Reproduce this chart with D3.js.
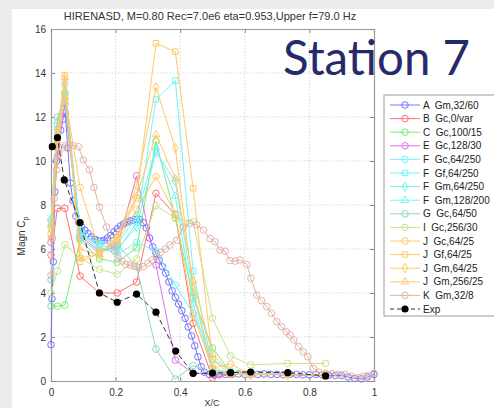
<!DOCTYPE html>
<html><head><meta charset="utf-8">
<script src="https://cdn.jsdelivr.net/npm/d3@7"></script>
<style>
html,body{margin:0;padding:0;background:#ebebeb;}
svg{display:block;}
</style>
</head><body>
<svg id="chart" width="494" height="408"></svg>
<script>
// Chord stations of the pressure taps (Station 7)
const sensorX = [0, 0.02, 0.043, 0.09, 0.15, 0.205, 0.265, 0.325, 0.385, 0.44, 0.5, 0.556, 0.618, 0.733, 0.85];

// Experiment
const expX  = [0.004, 0.02, 0.041, 0.09, 0.15, 0.205, 0.265, 0.325, 0.386, 0.44, 0.5, 0.556, 0.618, 0.733, 0.85];
const expCp = [10.65, 11.06, 9.14, 7.2, 4.0, 3.58, 3.95, 3.13, 1.36, 0.35, 0.36, 0.38, 0.41, 0.38, 0.23];

// A Gm,32/60 (dense surface output)
const aX = [0,0.003,0.007,0.012,0.017,0.023,0.03,0.037,0.044,0.052,0.06,0.068,0.077,0.086,0.095,0.105,0.115,0.125,0.135,0.145,0.155,0.165,0.175,0.185,0.195,0.205,0.215,0.225,0.235,0.245,0.255,0.265,0.275,0.285,0.295,0.305,0.315,0.325,0.335,0.345,0.355,0.365,0.375,0.385,0.395,0.405,0.415,0.425,0.435,0.445,0.455,0.465,0.475,0.49,0.505,0.52,0.54,0.56,0.58,0.6,0.62,0.64,0.66,0.68,0.7,0.72,0.74,0.76,0.78,0.8,0.82,0.84,0.86,0.88,0.9,0.92,0.94,0.96,0.98,1.0];
const aCp = [1.65,3.74,5.42,8.6,10.0,10.6,11.4,11.9,12.2,10.6,9.0,8.2,7.5,7.2,7.0,6.85,6.7,6.55,6.45,6.38,6.35,6.4,6.5,6.62,6.78,6.92,7.05,7.15,7.22,7.28,7.32,7.35,7.33,7.2,6.95,6.5,6.1,5.8,5.5,5.2,4.9,4.5,4.1,3.8,3.5,3.2,2.85,2.45,2.05,1.6,1.1,0.65,0.4,0.3,0.26,0.28,0.3,0.3,0.32,0.3,0.3,0.3,0.32,0.3,0.3,0.28,0.3,0.3,0.28,0.28,0.3,0.28,0.26,0.25,0.25,0.18,0.12,0.1,0.18,0.3];

// K Gm,32/8 (dense surface output)
const kX = [0,0.005,0.01,0.017,0.025,0.035,0.045,0.057,0.069,0.085,0.1,0.119,0.133,0.15,0.172,0.185,0.197,0.208,0.22,0.232,0.245,0.258,0.272,0.286,0.3,0.313,0.327,0.34,0.354,0.368,0.389,0.41,0.43,0.451,0.472,0.492,0.508,0.523,0.539,0.554,0.57,0.585,0.606,0.619,0.637,0.652,0.668,0.683,0.699,0.714,0.728,0.74,0.752,0.766,0.781,0.795,0.812,0.83,0.85,0.87,0.89,0.91,0.93,0.95,0.965,0.98,1.0];
const kCp = [4.8,6.5,8.3,9.6,10.3,10.6,10.7,10.75,10.7,10.65,10.05,9.6,8.8,7.9,7.0,6.26,5.9,5.58,5.45,5.3,5.27,5.2,5.15,5.2,5.35,5.5,5.65,5.85,6.0,6.18,6.4,7.0,7.17,7.1,6.86,6.48,6.33,5.95,5.9,5.47,5.45,5.5,5.3,4.67,3.9,3.65,3.38,3.08,2.7,2.47,2.24,2.09,1.86,1.56,1.33,1.1,0.58,0.4,0.35,0.33,0.3,0.3,0.22,0.15,0.2,0.25,0.35];

// Simulations sampled at the tap stations
const bCp   = [5.73, 7.85, 7.85, 4.77, 4.0, 4.0, 4.5, 8.53, 7.55, 2.62, 0.14, 0.3, 0.28, 0.3, 0.25];
const cCp   = [3.4, 3.4, 3.45, 6.4, 5.55, 5.4, 6.05, 10.9, 7.4, 3.8, 1.5, 0.4, 0.35, 0.3, 0.28];
const eCp   = [6.3, 10.2, 12.6, 6.6, 5.9, 6.1, 9.33, 5.27, 0.95, 0.35, 0.3, 0.3, 0.3, 0.28, 0.25];
const fGcCp = [7.3, 11.6, 13.1, 6.8, 6.1, 5.75, 6.3, 5.9, 4.36, 3.08, 1.0, 0.45, 0.35, 0.3, 0.28];
const fGfCp = [7.0, 11.2, 13.5, 6.7, 6.0, 5.9, 7.2, 12.8, 13.65, 5.0, 0.6, 0.35, 0.3, 0.3, 0.28];
const fGm64Cp  = [7.2, 11.4, 12.8, 7.0, 6.2, 6.0, 7.0, 10.4, 9.06, 4.0, 0.5, 0.35, 0.3, 0.3, 0.28];
const fGm128Cp = [7.4, 11.8, 13.2, 6.6, 6.3, 6.2, 7.5, 10.6, 8.4, 3.5, 0.4, 0.35, 0.3, 0.3, 0.28];
const gCp   = [4.6, 12.0, 12.8, 6.5, 5.8, 6.2, 5.2, 1.45, 0.09, 0.7, 0.4, 0.35, 0.3, 0.3, 0.28];
const iCp   = [4.0, 5.0, 6.2, 5.6, 5.08, 4.85, 5.55, 7.97, 7.4, 7.24, 2.85, 1.14, 0.73, 0.8, 0.8];
const jGcCp = [6.7, 10.8, 13.0, 8.8, 5.9, 6.3, 7.8, 9.29, 7.6, 3.0, 0.6, 0.77, 0.3, 0.3, 0.28];
const jGfCp = [6.5, 11.0, 13.9, 5.42, 5.8, 6.4, 8.3, 15.35, 14.97, 8.76, 0.95, 0.32, 0.3, 0.3, 0.28];
const jGm64Cp  = [6.9, 11.2, 13.6, 6.0, 5.7, 6.5, 8.9, 13.35, 10.58, 4.2, 0.5, 0.35, 0.3, 0.3, 0.28];
const jGm256Cp = [7.1, 11.5, 13.8, 5.6, 5.75, 6.6, 8.4, 11.2, 9.2, 4.56, 1.2, 0.4, 0.3, 0.3, 0.28];

const xTicks = [0, 0.2, 0.4, 0.6, 0.8, 1];
const yTicks = [0, 2, 4, 6, 8, 10, 12, 14, 16];
const titleText = "HIRENASD, M=0.80 Rec=7.0e6 eta=0.953,Upper f=79.0 Hz";

const series = [
  {label: "A  Gm,32/60",   xs: aX,      ys: aCp,      color: "#7474ff", mark: "o"},
  {label: "B  Gc,0/var",   xs: sensorX, ys: bCp,      color: "#ff7070", mark: "o"},
  {label: "C  Gc,100/15",  xs: sensorX, ys: cCp,      color: "#74ee74", mark: "o"},
  {label: "E  Gc,128/30",  xs: sensorX, ys: eCp,      color: "#e070e8", mark: "o"},
  {label: "F  Gc,64/250",  xs: sensorX, ys: fGcCp,    color: "#70f4f4", mark: "o"},
  {label: "F  Gf,64/250",  xs: sensorX, ys: fGfCp,    color: "#70f4f4", mark: "s"},
  {label: "F  Gm,64/250",  xs: sensorX, ys: fGm64Cp,  color: "#70f4f4", mark: "d"},
  {label: "F  Gm,128/200", xs: sensorX, ys: fGm128Cp, color: "#70f4f4", mark: "^"},
  {label: "G  Gc,64/50",   xs: sensorX, ys: gCp,      color: "#8ed8c4", mark: "o"},
  {label: "I  Gc,256/30",  xs: sensorX, ys: iCp,      color: "#c8e48a", mark: "o"},
  {label: "J  Gc,64/25",   xs: sensorX, ys: jGcCp,    color: "#ffc868", mark: "o"},
  {label: "J  Gf,64/25",   xs: sensorX, ys: jGfCp,    color: "#ffc868", mark: "s"},
  {label: "J  Gm,64/25",   xs: sensorX, ys: jGm64Cp,  color: "#ffc868", mark: "d"},
  {label: "J  Gm,256/25",  xs: sensorX, ys: jGm256Cp, color: "#ffc868", mark: "^"},
  {label: "K  Gm,32/8",    xs: kX,      ys: kCp,      color: "#e2b4a6", mark: "o"}
];

const svg = d3.select("#chart");
const W = 494, H = 408;

// slide backdrop and white figure panel
svg.append("rect").attr("x", 0).attr("y", 0).attr("width", W).attr("height", H).attr("fill", "#ebebeb");
svg.append("rect").attr("x", 12).attr("y", 9).attr("width", W - 12).attr("height", H - 9).attr("fill", "#ffffff");

const plot = {left: 51, right: 374, top: 29, bottom: 381};
const x = d3.scaleLinear().domain([0, 1]).range([plot.left, plot.right]);
const y = d3.scaleLinear().domain([0, 16]).range([plot.bottom, plot.top]);

const font = "'Liberation Sans', Arial, sans-serif";

// grid
const grid = svg.append("g").attr("stroke", "#c4c4c4").attr("stroke-width", 0.8).attr("stroke-dasharray", "1.2,2");
grid.selectAll(".gx").data(xTicks.slice(1, -1)).enter().append("line")
  .attr("x1", d => x(d)).attr("x2", d => x(d)).attr("y1", plot.top).attr("y2", plot.bottom);
grid.selectAll(".gy").data(yTicks.slice(1, -1)).enter().append("line")
  .attr("x1", plot.left).attr("x2", plot.right).attr("y1", d => y(d)).attr("y2", d => y(d));

// axes
const axB = svg.append("g").attr("transform", `translate(0,${plot.bottom})`)
  .call(d3.axisBottom(x).tickValues(xTicks).tickSize(-4).tickPadding(8).tickFormat(d3.format("~g")));
const axL = svg.append("g").attr("transform", `translate(${plot.left},0)`)
  .call(d3.axisLeft(y).tickValues(yTicks).tickSize(-4).tickPadding(5).tickFormat(d3.format("d")));
const axT = svg.append("g").attr("transform", `translate(0,${plot.top})`)
  .call(d3.axisTop(x).tickValues(xTicks).tickSize(-4).tickFormat(""));
const axR = svg.append("g").attr("transform", `translate(${plot.right},0)`)
  .call(d3.axisRight(y).tickValues(yTicks).tickSize(-4).tickFormat(""));
[axB, axL, axT, axR].forEach(g => {
  g.selectAll("path").attr("stroke", "#9a9a9a").attr("stroke-width", 1.2);
  g.selectAll("line").attr("stroke", "#8a8a8a");
  g.selectAll("text").attr("font-family", font).attr("font-size", 10).attr("fill", "#333");
});

// curves
const line = d3.line().x(d => x(d[0])).y(d => y(d[1]));
const symbolOf = m => m === "s" ? d3.symbolSquare : m === "d" ? d3.symbolDiamond : m === "^" ? d3.symbolTriangle : d3.symbolCircle;
const sizeOf = m => m === "s" ? 30 : m === "d" ? 26 : m === "^" ? 24 : 34;

const curves = svg.append("g");
series.forEach(s => {
  const pts = s.xs.map((v, i) => [v, s.ys[i]]);
  const g = curves.append("g");
  g.append("path").attr("d", line(pts)).attr("fill", "none").attr("stroke", s.color).attr("stroke-width", 1);
  g.selectAll("path.m").data(pts).enter().append("path").attr("class", "m")
    .attr("transform", d => `translate(${x(d[0])},${y(d[1])})`)
    .attr("d", d3.symbol().type(symbolOf(s.mark)).size(sizeOf(s.mark)))
    .attr("fill", "none").attr("stroke", s.color).attr("stroke-width", 1);
});

// experiment
const expPts = expX.map((v, i) => [v, expCp[i]]);
svg.append("path").attr("d", line(expPts)).attr("fill", "none")
  .attr("stroke", "#333").attr("stroke-width", 1).attr("stroke-dasharray", "5,3");
svg.append("g").selectAll("circle").data(expPts).enter().append("circle")
  .attr("cx", d => x(d[0])).attr("cy", d => y(d[1])).attr("r", 3.6).attr("fill", "#000");

// title and axis labels
svg.append("text").attr("x", 210).attr("y", 20).attr("text-anchor", "middle")
  .attr("font-family", font).attr("font-size", 11).attr("fill", "#333").text(titleText);
const yl = svg.append("text").attr("transform", "translate(25,236) rotate(-90)").attr("text-anchor", "middle")
  .attr("font-family", font).attr("font-size", 10).attr("fill", "#333");
yl.append("tspan").text("Magn C");
yl.append("tspan").attr("font-size", 7).attr("dy", 3).text("p");
svg.append("text").attr("x", 212).attr("y", 406).attr("text-anchor", "middle")
  .attr("font-family", font).attr("font-size", 9).attr("fill", "#333").text("X/C");

// slide caption
const cap = svg.append("text").attr("x", 283).attr("y", 75)
  .attr("font-family", "Lato, 'Open Sans', sans-serif").attr("font-size", 44).attr("fill", "#262a6a").text("Station 7");
const capW = cap.node().getComputedTextLength();
cap.attr("font-size", 44 * 187 / capW);

// legend
const lg = svg.append("g");
lg.append("rect").attr("x", 384).attr("y", 95).attr("width", 130).attr("height", 221)
  .attr("fill", "#fff").attr("stroke", "#9a9a9a").attr("stroke-width", 1);
const rowY = i => 105 + i * 13.6;
series.forEach((s, i) => {
  const yy = rowY(i);
  lg.append("line").attr("x1", 390).attr("x2", 420).attr("y1", yy).attr("y2", yy).attr("stroke", s.color);
  lg.append("path").attr("transform", `translate(405,${yy})`)
    .attr("d", d3.symbol().type(symbolOf(s.mark)).size(sizeOf(s.mark)))
    .attr("fill", "none").attr("stroke", s.color);
  lg.append("text").attr("x", 423).attr("y", yy + 3.5).attr("font-family", font).attr("font-size", 10)
    .attr("fill", "#222").attr("xml:space", "preserve").style("white-space", "pre").text(s.label);
});
{
  const yy = rowY(series.length);
  lg.append("line").attr("x1", 390).attr("x2", 420).attr("y1", yy).attr("y2", yy)
    .attr("stroke", "#333").attr("stroke-dasharray", "4,3");
  lg.append("circle").attr("cx", 405).attr("cy", yy).attr("r", 3.6).attr("fill", "#000");
  lg.append("text").attr("x", 423).attr("y", yy + 3.5).attr("font-family", font).attr("font-size", 10)
    .attr("fill", "#222").text("Exp");
}
</script>
</body></html>
